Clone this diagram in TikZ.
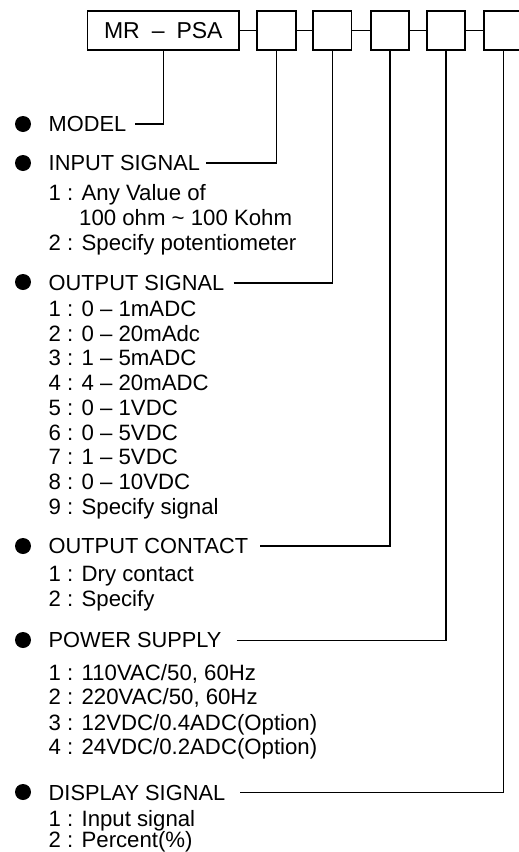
\documentclass[tikz,border=0pt]{standalone}
\usepackage{fontspec}
\setmainfont{Liberation Sans}
\begin{document}
\begin{tikzpicture}[x=1pt,y=-1pt,
  lbl/.style={anchor=base west, inner sep=0pt, font=\fontsize{21.8}{24}\selectfont},
  itm/.style={anchor=base west, inner sep=0pt, font=\fontsize{22.2}{24}\selectfont},
  cbox/.style={draw, line width=1.7pt, minimum width=38.5pt, minimum height=38.5pt, inner sep=0pt},
  mbox/.style={draw, line width=1.7pt, minimum width=151.5pt, minimum height=38.5pt, inner sep=0pt, font=\fontsize{23}{24}\selectfont},
  conn/.style={line width=1.6pt},
  dot/.style={circle, fill=black, minimum size=16pt, inner sep=0pt}]
\useasboundingbox (0,0) rectangle (519,852);

% code boxes
\node[mbox] (mr) at (163.3,30.5) {\raisebox{-1pt}{MR\hspace{12pt}–\hspace{12pt}PSA}};
\node[cbox] (b1) at (276.5,30.5) {};
\node[cbox] (b2) at (332.3,30.5) {};
\node[cbox] (b3) at (390,30.5) {};
\node[cbox] (b4) at (446,30.5) {};
\node[cbox] (b5) at (503.5,30.5) {};
\draw[conn] (mr.east) -- (b1.west);
\draw[conn] (b1.east) -- (b2.west);
\draw[conn] (b2.east) -- (b3.west);
\draw[conn] (b3.east) -- (b4.west);
\draw[conn] (b4.east) -- (b5.west);

% bullets
\node[dot] (d1) at (23,124) {};
\node[dot] (d2) at (23,163) {};
\node[dot] (d3) at (23,282) {};
\node[dot] (d4) at (23,546) {};
\node[dot] (d5) at (23,640) {};
\node[dot] (d6) at (23,792) {};

% section labels
\node[lbl] (lmodel) at (48.5,131.8) {MODEL};
\node[lbl] (linput) at (48.5,170.7) {INPUT SIGNAL};
\node[lbl] (lout) at (48.5,290.3) {OUTPUT SIGNAL};
\node[lbl] (lcont) at (48.5,553.7) {OUTPUT CONTACT};
\node[lbl] (lpow) at (48.5,647.8) {POWER SUPPLY};
\node[lbl] (ldisp) at (48.5,800) {DISPLAY SIGNAL};

% connectors
\draw[conn] ([xshift=9pt]lmodel.east) -| (mr.south);
\draw[conn] ([xshift=6pt]linput.east) -| (b1.south);
\draw[conn] ([xshift=9pt]lout.east) -| (b2.south);
\draw[conn] ([xshift=12pt]lcont.east) -| (b3.south);
\draw[conn] ([xshift=15pt]lpow.east) -| (b4.south);
\draw[conn] ([xshift=15pt]ldisp.east) -| (b5.south);

% input items
\node[itm] (i1) at (48.5,200.5) {1 : Any Value of};
\node[itm] (i1b) at (79,225) {100 ohm \textasciitilde\ 100 Kohm};
\node[itm] (i2) at (48.5,250.7) {2 : Specify potentiometer};

% output signal items
\node[itm] (o1) at (48.5,316.7) {1 : 0 – 1mADC};
\node[itm] (o2) at (48.5,341.2) {2 : 0 – 20mAdc};
\node[itm] (o3) at (48.5,365.8) {3 : 1 – 5mADC};
\node[itm] (o4) at (48.5,390.5) {4 : 4 – 20mADC};
\node[itm] (o5) at (48.5,415) {5 : 0 – 1VDC};
\node[itm] (o6) at (48.5,440) {6 : 0 – 5VDC};
\node[itm] (o7) at (48.5,464.5) {7 : 1 – 5VDC};
\node[itm] (o8) at (48.5,489) {8 : 0 – 10VDC};
\node[itm] (o9) at (48.5,514.3) {9 : Specify signal};

% output contact items
\node[itm] (c1) at (48.5,581) {1 : Dry contact};
\node[itm] (c2) at (48.5,606.7) {2 : Specify};

% power items
\node[itm] (p1) at (48.5,680) {1 : 110VAC/50, 60Hz};
\node[itm] (p2) at (48.5,704.3) {2 : 220VAC/50, 60Hz};
\node[itm] (p3) at (48.5,730) {3 : 12VDC/0.4ADC(Option)};
\node[itm] (p4) at (48.5,754) {4 : 24VDC/0.2ADC(Option)};

% display items
\node[itm] (s1) at (48.5,826) {1 : Input signal};
\node[itm] (s2) at (48.5,847.5) {2 : Percent(\%)};
\end{tikzpicture}
\end{document}
